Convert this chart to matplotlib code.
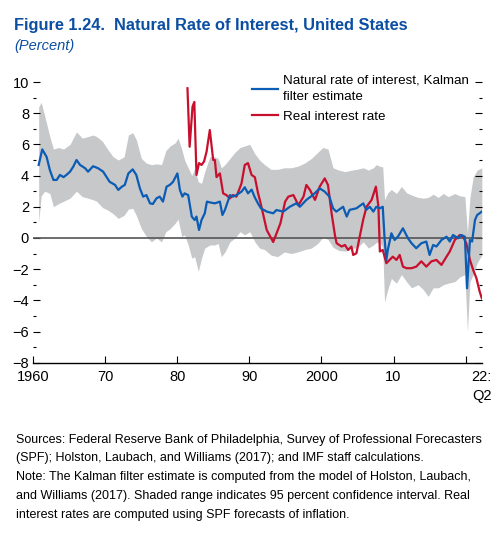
import matplotlib
matplotlib.use("Agg")
import matplotlib.pyplot as plt
from matplotlib.ticker import MultipleLocator

plt.rcParams['font.family'] = ['Liberation Sans', 'DejaVu Sans']

# Natural rate of interest (Kalman filter estimate), percent
nat_years = [1960.75, 1961.25, 1961.85, 1962.3, 1962.8, 1963.25, 1963.7, 1964.2, 1964.6, 1965.1,
             1965.55, 1966.0, 1966.5, 1967.2, 1967.6, 1968.3, 1969.0, 1969.7, 1970.6, 1971.35,
             1971.8, 1972.3, 1972.7, 1973.2, 1973.8, 1974.3, 1974.8, 1975.25, 1975.7, 1976.2,
             1976.6, 1977.1, 1977.55, 1978.0, 1978.5, 1978.95, 1979.4, 1980.0, 1980.35, 1980.7,
             1981.0, 1981.5, 1982.0, 1982.4, 1982.65, 1983.0, 1983.35, 1983.8, 1984.1, 1984.5,
             1985.2, 1985.9, 1986.25, 1986.6, 1987.3, 1987.7, 1988.2, 1988.9, 1989.35, 1989.8,
             1990.3, 1990.75, 1991.2, 1991.6, 1992.4, 1993.3, 1993.75, 1994.7, 1995.6, 1996.5,
             1997.0, 1997.9, 1998.8, 1999.75, 2000.45, 2001.1, 2001.6, 2002.05, 2003.0, 2003.5,
             2003.9, 2004.85, 2005.8, 2006.2, 2006.7, 2007.2, 2007.6, 2008.1, 2008.5, 2008.75,
             2009.0, 2009.2, 2009.7, 2010.15, 2010.6, 2011.3, 2012.0, 2012.5, 2013.15, 2013.85,
             2014.55, 2015.0, 2015.5, 2015.95, 2016.65, 2017.35, 2017.8, 2018.25, 2018.95, 2019.4,
             2019.9, 2020.2, 2020.6, 2020.9, 2021.3, 2021.6, 2022.25]
nat_rate = [4.68, 5.68, 5.2, 4.36, 3.72, 3.72, 4.04, 3.9, 4.04, 4.25,
            4.57, 5.0, 4.68, 4.47, 4.25, 4.6, 4.47, 4.25, 3.6, 3.4,
            3.08, 3.29, 3.4, 4.14, 4.4, 4.04, 3.18, 2.65, 2.75, 2.22,
            2.18, 2.54, 2.65, 2.33, 3.29, 3.4, 3.6, 4.14, 3.08, 2.65,
            2.86, 2.75, 1.37, 1.15, 1.37, 0.51, 1.15, 1.58, 2.33, 2.28,
            2.22, 2.33, 1.47, 1.8, 2.75, 2.65, 2.75, 2.97, 3.25, 2.86,
            3.1, 2.6, 2.2, 1.9, 1.69, 1.58, 1.79, 1.69, 2.0, 2.22,
            2.0, 2.44, 2.75, 3.18, 2.97, 2.65, 1.9, 1.69, 2.0, 1.37,
            1.8, 1.9, 2.22, 1.8, 2.0, 1.69, 2.0, 1.9, 2.0, 0.0,
            -1.41, -0.77, 0.3, -0.13, 0.08, 0.62, -0.02, -0.34, -0.66, -0.34,
            -0.23, -1.09, -0.45, -0.55, -0.13, 0.08, -0.23, 0.19, -0.02, 0.19,
            0.08, -3.23, -0.13, -0.23, 1.15, 1.47, 1.69]

# 95 percent confidence band
band_years = [1960.75, 1961.1, 1961.6, 1962.3, 1962.8, 1963.5, 1964.2, 1965.1, 1966.0, 1966.8,
              1967.6, 1968.3, 1968.8, 1969.6, 1970.3, 1971.1, 1971.8, 1972.6, 1973.2, 1973.8,
              1974.3, 1975.0, 1975.7, 1976.4, 1977.1, 1977.8, 1978.4, 1979.0, 1979.7, 1980.1,
              1980.6, 1981.0, 1981.5, 1982.0, 1982.4, 1982.9, 1983.35, 1983.8, 1984.5, 1985.2,
              1985.65, 1986.1, 1986.6, 1987.3, 1988.0, 1988.7, 1989.35, 1990.05, 1990.75, 1991.4,
              1992.1, 1993.0, 1993.9, 1994.85, 1995.8, 1996.7, 1997.65, 1998.6, 1999.5, 2000.2,
              2000.9, 2001.6, 2002.4, 2003.3, 2004.2, 2004.9, 2005.8, 2006.5, 2007.2, 2007.6,
              2008.1, 2008.5, 2008.75, 2009.2, 2009.7, 2010.4, 2011.1, 2011.8, 2012.5, 2013.4,
              2014.1, 2014.8, 2015.5, 2016.2, 2016.9, 2017.6, 2018.5, 2019.2, 2019.9, 2020.25,
              2020.6, 2021.05, 2021.6, 2022.25]
band_upper = [8.4, 8.7, 7.8, 6.5, 5.7, 5.8, 5.7, 6.0, 6.8, 6.4,
              6.5, 6.6, 6.5, 6.2, 5.7, 5.2, 5.0, 5.2, 6.6, 6.75,
              6.3, 5.1, 4.8, 4.7, 4.75, 4.7, 5.6, 5.9, 6.1, 6.4,
              5.7, 5.0, 4.5, 4.0, 4.45, 3.6, 3.5, 4.25, 5.2, 5.2,
              5.1, 4.5, 4.7, 5.1, 5.5, 5.8, 5.9, 6.0, 5.4, 5.0,
              4.7, 4.4, 4.4, 4.5, 4.5, 4.6, 4.8, 5.1, 5.5, 5.8,
              5.7, 4.5, 4.35, 4.25, 4.35, 4.4, 4.5, 4.35, 4.5, 4.7,
              4.6, 4.55, 2.45, 2.9, 3.1, 2.85, 3.3, 2.9, 2.75, 2.6,
              2.55, 2.6, 2.8, 2.6, 2.85, 2.65, 2.85, 2.7, 2.65, 0.3,
              2.6, 3.9, 4.35, 4.5]
band_lower = [1.0, 2.7, 3.0, 2.85, 2.0, 2.2, 2.35, 2.55, 3.0, 2.65,
              2.55, 2.45, 2.35, 1.95, 1.8, 1.55, 1.25, 1.45, 1.85, 1.9,
              1.45, 0.6, 0.1, -0.25, 0.0, -0.25, 0.4, 0.6, 0.95, 1.2,
              0.1, 0.2, -0.45, -1.3, -1.2, -2.15, -1.3, -0.65, -0.45, -0.45,
              -0.35, -1.2, -0.9, -0.25, 0.0, 0.4, 0.2, 0.4, -0.25, -0.65,
              -0.75, -1.1, -1.2, -0.9, -1.0, -0.9, -0.75, -0.65, -0.35, 0.05,
              -0.1, -0.6, -0.8, -0.85, -0.65, -0.65, -0.25, -0.65, -0.45, -0.3,
              -0.25, -0.65, -4.1, -3.3, -2.6, -2.9, -2.35, -2.8, -3.2, -3.0,
              -3.3, -3.75, -3.2, -3.2, -3.0, -2.9, -2.8, -2.5, -2.35, -6.0,
              -2.8, -2.35, -1.6, -1.1]

# Real interest rate, percent
real_years = [1981.4, 1981.7, 1982.1, 1982.35, 1982.65, 1983.0, 1983.35, 1983.7, 1984.05, 1984.5,
              1984.97, 1985.2, 1985.43, 1985.9, 1986.35, 1986.8, 1987.3, 1987.7, 1988.2, 1988.9,
              1989.35, 1989.8, 1990.3, 1990.75, 1991.2, 1991.5, 1992.4, 1993.3, 1994.3, 1994.95,
              1995.4, 1996.1, 1996.8, 1997.5, 1997.9, 1998.4, 1999.1, 1999.75, 2000.45, 2000.9,
              2001.4, 2001.9, 2002.1, 2002.8, 2003.25, 2003.7, 2004.15, 2004.4, 2004.85, 2005.3,
              2005.8, 2006.25, 2006.95, 2007.55, 2007.9, 2008.1, 2008.5, 2009.0, 2009.45, 2009.9,
              2010.4, 2010.85, 2011.3, 2011.8, 2012.5, 2013.15, 2013.85, 2014.55, 2015.25, 2015.95,
              2016.65, 2017.35, 2017.8, 2018.5, 2019.2, 2019.65, 2020.1, 2020.6, 2021.05, 2021.5,
              2021.95, 2022.25]
real_rate = [9.6, 5.85, 8.42, 8.72, 4.04, 4.8, 4.68, 4.9, 5.53, 6.92,
             5.0, 5.0, 3.9, 4.14, 2.86, 2.75, 2.54, 2.75, 2.65, 3.5,
             4.68, 4.8, 4.04, 3.9, 2.86, 2.33, 0.51, -0.26, 0.94, 2.33,
             2.65, 2.75, 2.1, 2.65, 3.4, 3.08, 2.44, 3.29, 3.82, 3.4,
             1.58, 0.08, -0.34, -0.55, -0.45, -0.77, -0.55, -1.09, -0.98, 0.08,
             1.2, 2.0, 2.44, 3.29, 2.0, -0.87, -0.77, -1.62, -1.41, -1.2,
             -1.41, -1.09, -1.84, -1.94, -1.94, -1.84, -1.5, -1.84, -1.5, -1.41,
             -1.73, -1.2, -0.87, -0.13, 0.19, 0.08, -0.34, -1.41, -2.05, -2.58,
             -3.44, -3.87]

x_ticks = [1960, 1970, 1980, 1990, 2000, 2010, 2020, 2022.25]
x_labels = ["1960", "70", "80", "90", "2000", "10", "", "22:\nQ2"]

blue = "#0a5cb4"
red = "#c8102e"
title_blue = "#0b4ea2"

fig = plt.figure(figsize=(5.04, 5.34), dpi=100)
ax = fig.add_axes([0.066, 0.3208, 0.890, 0.5256])

ax.fill_between(band_years, band_lower, band_upper, color="#c7c8ca", linewidth=0, zorder=1)
ax.axhline(0, color="#555555", linewidth=1.2, zorder=2)
ax.plot(nat_years, nat_rate, color=blue, linewidth=1.6, zorder=4,
        label="Natural rate of interest, Kalman\nfilter estimate")
ax.plot(real_years, real_rate, color=red, linewidth=1.6, zorder=3,
        label="Real interest rate")

ax.set_xlim(1960, 2022.25)
ax.set_ylim(-8, 10)

for s in ["top", "left", "right"]:
    ax.spines[s].set_visible(False)
ax.spines["bottom"].set_linewidth(1.0)

ax.yaxis.set_minor_locator(MultipleLocator(1))
ax.set_yticks(range(-8, 11, 2))
ax.set_yticklabels([str(v).replace("-", "\u2212") for v in range(-8, 11, 2)])
ax.tick_params(axis="y", which="both", direction="in", left=True, right=True,
               labelsize=10.5, pad=3)
ax.tick_params(axis="y", which="major", length=5, width=0.8)
ax.tick_params(axis="y", which="minor", length=2.5, width=0.8)

ax.set_xticks(x_ticks)
ax.set_xticklabels(x_labels, linespacing=1.45)
ax.tick_params(axis="x", direction="in", length=5, width=0.8, labelsize=10.5, pad=5)
ax.xaxis.get_major_ticks()[-1].tick1line.set_visible(False)

leg = ax.legend(loc="upper left", bbox_to_anchor=(0.487, 1.026), frameon=False, fontsize=9.6,
                handlelength=1.95, handletextpad=0.4, labelspacing=0.6, borderaxespad=0,
                borderpad=0)
for t in leg.get_texts():
    t.set_linespacing(1.45)

fig.text(0.028, 0.953, "Figure 1.24.  Natural Rate of Interest, United States",
         color=title_blue, fontsize=11.8, fontweight="bold", va="center", ha="left")
fig.text(0.028, 0.914, "(Percent)", color=title_blue, fontsize=10.5, style="italic",
         va="center", ha="left")

note = ("Sources: Federal Reserve Bank of Philadelphia, Survey of Professional Forecasters\n"
        "(SPF); Holston, Laubach, and Williams (2017); and IMF staff calculations.\n"
        "Note: The Kalman filter estimate is computed from the model of Holston, Laubach,\n"
        "and Williams (2017). Shaded range indicates 95 percent confidence interval. Real\n"
        "interest rates are computed using SPF forecasts of inflation.")
fig.text(0.032, 0.188, note, fontsize=9.0, va="top", ha="left", linespacing=1.75)

fig.savefig("out.png", dpi=100)
